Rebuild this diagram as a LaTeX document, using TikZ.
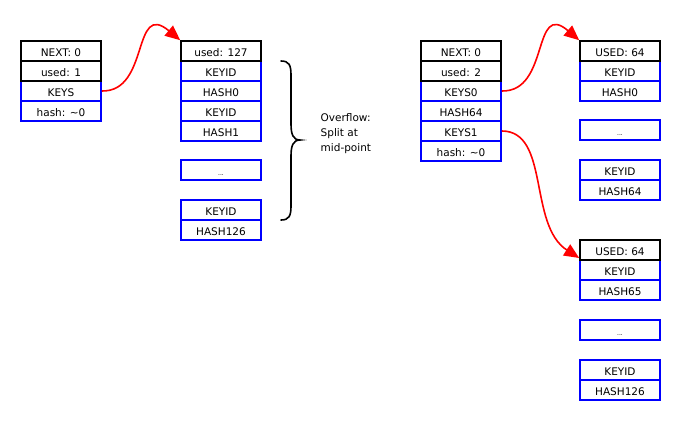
\documentclass[tikz,border=0pt]{standalone}
\usepackage{fontspec}
\newfontfamily\dvs{DejaVu Sans}
\usetikzlibrary{arrows.meta}
\tikzset{
  cell/.style={draw=blue, line width=1.6pt, minimum width=80pt, minimum height=20pt, inner sep=0pt,
    text height=11.6pt, text depth=0pt, font=\dvs\fontsize{10.5}{12}\selectfont},
  hdr/.style={cell, draw=black},
  dots/.style={cell, font=\dvs\fontsize{6}{7}\selectfont, text height=11pt},
  link/.style={draw=red, line width=1.6pt, -{Triangle[length=15pt,width=13pt]}},
  brace/.style={draw=black, line width=1.6pt, line cap=round}
}
\begin{document}
\begin{tikzpicture}[x=1pt,y=-1pt]
\useasboundingbox (0,0) rectangle (680,421);
% left root
\node[cell] (a3) at (61,91) {KEYS};
\node[cell] (a4) at (61,111) {hash: \textasciitilde0};
\node[hdr] (a1) at (61,51) {NEXT: 0};
\node[hdr] (a2) at (61,71) {used: 1};
% left leaf
\node[cell] (b2) at (221,71) {KEYID};
\node[cell] (b3) at (221,91) {HASH0};
\node[cell] (b4) at (221,111) {KEYID};
\node[cell] (b5) at (221,131) {HASH1};
\node[dots] (b6) at (221,170) {...};
\node[cell] (b7) at (221,210) {KEYID};
\node[cell] (b8) at (221,230) {HASH126};
\node[hdr] (b1) at (221,51) {used: 127};
% brace and text
\draw[brace] (281,61) .. controls (289,61) and (291,65) .. (291,75) -- (291,124)
  .. controls (291,134) and (293,140) .. (300,140)
  .. controls (293,140) and (291,146) .. (291,156) -- (291,206)
  .. controls (291,216) and (289,220) .. (281,220);
\node[anchor=base west, font=\dvs\fontsize{10.5}{15}\selectfont, align=left, inner sep=0pt] (t) at (320.5,151.7)
  {Overflow:\\Split at\\mid-point};
% right root
\node[cell] (c3) at (461,91) {KEYS0};
\node[cell] (c4) at (461,111) {HASH64};
\node[cell] (c5) at (461,131) {KEYS1};
\node[cell] (c6) at (461,151) {hash: \textasciitilde0};
\node[hdr] (c1) at (461,51) {NEXT: 0};
\node[hdr] (c2) at (461,71) {used: 2};
% right leaf 1
\node[cell] (d2) at (620,71) {KEYID};
\node[cell] (d3) at (620,91) {HASH0};
\node[dots] (d4) at (620,130) {...};
\node[cell] (d5) at (620,170) {KEYID};
\node[cell] (d6) at (620,190) {HASH64};
\node[hdr] (d1) at (620,51) {USED: 64};
% right leaf 2
\node[cell] (e2) at (620,270) {KEYID};
\node[cell] (e3) at (620,290) {HASH65};
\node[dots] (e4) at (620,330) {...};
\node[cell] (e5) at (620,370) {KEYID};
\node[cell] (e6) at (620,390) {HASH126};
\node[hdr] (e1) at (620,250) {USED: 64};
% links
\draw[link] (a3.east) .. controls (150,92) and (132,0) .. (b1.north west);
\draw[link] (c3.east) .. controls (550,92) and (532,0) .. (d1.north west);
\draw[link] (c5.east) .. controls (550,131) and (528,225) .. ([yshift=-8pt]e1.west);
\end{tikzpicture}
\end{document}
